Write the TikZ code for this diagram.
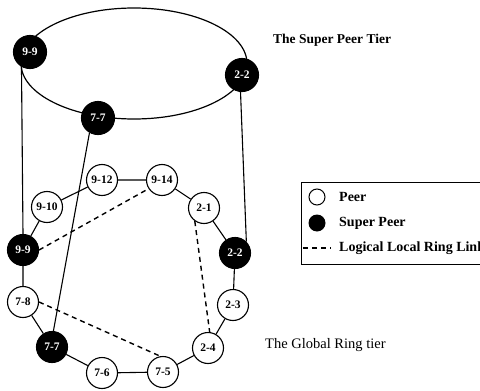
\documentclass[tikz,border=0pt]{standalone}
\usepackage{fontspec}
\setmainfont{Liberation Serif}
\begin{document}
\begin{tikzpicture}[x=1pt,y=-1pt,
  peer/.style={circle,draw,line width=1.1pt,fill=white,minimum size=31pt,inner sep=0pt,
    font=\fontsize{11.5}{12}\selectfont\bfseries},
  super/.style={peer,fill=black,text=white},
  topsuper/.style={super,minimum size=33pt},
  link/.style={line width=1.1pt},
  ringlink/.style={line width=1.4pt,dash pattern=on 5pt off 4pt},
  label/.style={anchor=west,inner sep=0pt,font=\fontsize{14.5}{16}\selectfont}]
\useasboundingbox (0,0) rectangle (480,391);
\clip (0,0) rectangle (480,391);

% super peer tier
\draw[line width=1.2pt] (134,63.5) ellipse [x radius=113, y radius=55.5];
\node[topsuper] (t99) at (30,52) {9-9};
\node[topsuper] (t22) at (242,75) {2-2};
\node[topsuper] (t77) at (98,118) {7-7};

% global ring tier
\node[peer]  (r912) at (102,180) {9-12};
\node[peer]  (r914) at (162,180) {9-14};
\node[peer]  (r21)  at (204,208) {2-1};
\node[super] (r22)  at (235,253) {2-2};
\node[peer]  (r23)  at (233,305) {2-3};
\node[peer]  (r24)  at (208,348) {2-4};
\node[peer]  (r75)  at (163,372) {7-5};
\node[peer]  (r76)  at (102,373) {7-6};
\node[super] (r77)  at (52,347)  {7-7};
\node[peer]  (r78)  at (23,302)  {7-8};
\node[super] (r99)  at (23,250)  {9-9};
\node[peer]  (r910) at (47,207)  {9-10};

\draw[link] (r912) -- (r914) -- (r21) -- (r22) -- (r23) -- (r24) -- (r75)
  -- (r76) -- (r77) -- (r78) -- (r99) -- (r910) -- (r912);

% logical local ring links
\draw[ringlink] (r99.east) -- (r914.213);
\draw[ringlink] (r21.235) -- (r24.84);
\draw[ringlink] (r78.east) -- (r75.100);

% links between the two tiers
\draw[link] (t99.240) -- (r99.north);
\draw[link] (t22.265) -- (r22.45);
\draw[link] (t77.240) -- (r77.85);

% tier labels
\node[label,font=\fontsize{13.5}{15}\selectfont\bfseries] (tsup) at (273,40) {The Super Peer Tier};
\node[label] (tglob) at (265,345) {The Global Ring tier};

% legend
\draw[line width=0.9pt] (301,182) rectangle (495,264);
\node[circle,draw,line width=1pt,minimum size=16pt,inner sep=0pt] (kpeer) at (317,197) {};
\node[circle,fill=black,minimum size=17pt,inner sep=0pt] (ksuper) at (317,223) {};
\coordinate (kd1) at (303,248);
\coordinate (kd2) at (331,248);
\draw[line width=1.4pt,dash pattern=on 5pt off 4pt] (kd1) -- (kd2);
\node[label,font=\fontsize{14}{16}\selectfont\bfseries] (tpeer) at (339,197) {Peer};
\node[label,font=\fontsize{14}{16}\selectfont\bfseries] (tsuper) at (339,223) {Super Peer};
\node[label,font=\fontsize{14}{16}\selectfont\bfseries] (tlink) at (339,248) {Logical Local Ring Link};
\end{tikzpicture}
\end{document}
